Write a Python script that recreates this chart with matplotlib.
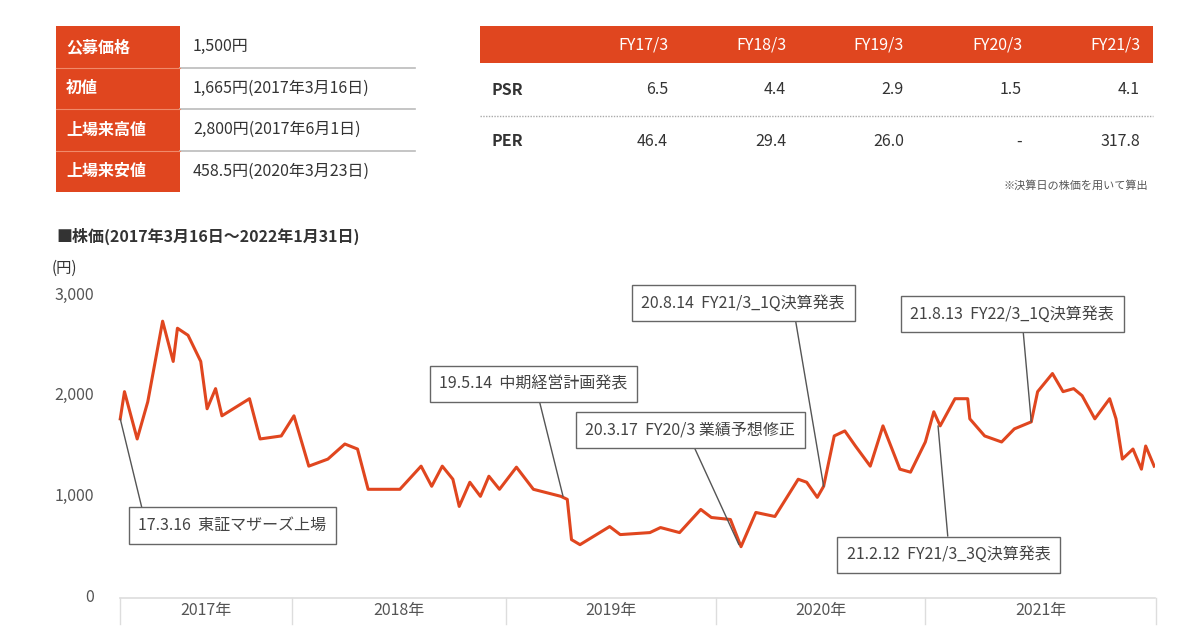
import matplotlib
matplotlib.use("Agg")
import matplotlib.pyplot as plt
from matplotlib.patches import Rectangle
from matplotlib.lines import Line2D

plt.rcParams["font.family"] = "Noto Sans CJK JP"

ORANGE = "#E0461F"
TXT = "#333333"

# price series (decimal year, yen)
t = [2017.20, 2017.22, 2017.28, 2017.33, 2017.40, 2017.45, 2017.47, 2017.52, 2017.58, 2017.61,
     2017.65, 2017.68, 2017.81, 2017.86, 2017.96, 2018.02, 2018.09, 2018.18, 2018.26, 2018.32,
     2018.37, 2018.52, 2018.62, 2018.67, 2018.72, 2018.77, 2018.80, 2018.85, 2018.90, 2018.94,
     2018.99, 2019.07, 2019.15, 2019.28, 2019.31, 2019.33, 2019.37, 2019.51, 2019.56, 2019.70,
     2019.75, 2019.84, 2019.94, 2019.99, 2020.08, 2020.13, 2020.20, 2020.29, 2020.40, 2020.44,
     2020.49, 2020.52, 2020.57, 2020.62, 2020.67, 2020.74, 2020.80, 2020.88, 2020.93, 2021.00,
     2021.04, 2021.07, 2021.14, 2021.20, 2021.21, 2021.28, 2021.36, 2021.42, 2021.50, 2021.53,
     2021.60, 2021.65, 2021.70, 2021.74, 2021.80, 2021.87, 2021.90, 2021.93, 2021.98, 2022.02,
     2022.04, 2022.08]
price = [1750, 2020, 1550, 1920, 2720, 2320, 2650, 2580, 2320, 1850,
         2050, 1780, 1950, 1550, 1580, 1780, 1280, 1350, 1500, 1450,
         1050, 1050, 1280, 1080, 1280, 1150, 880, 1120, 980, 1180,
         1050, 1270, 1050, 980, 950, 550, 500, 680, 600, 620,
         670, 620, 850, 770, 750, 480, 820, 780, 1150, 1120,
         970, 1080, 1580, 1630, 1480, 1280, 1680, 1250, 1220, 1520,
         1820, 1680, 1950, 1950, 1750, 1580, 1520, 1650, 1720, 2020,
         2200, 2020, 2050, 1980, 1750, 1950, 1750, 1350, 1450, 1250,
         1480, 1280]

yticks = [0, 1000, 2000, 3000]
years = ["2017年", "2018年", "2019年", "2020年", "2021年"]
year_edges = [2017.20, 2018.01, 2019.02, 2020.01, 2021.00, 2022.09]

# events: label, (text x, text y), (point x, point y), line attach point on box
events = [
    ("17.3.16  東証マザーズ上場", (2017.73, 690), (2017.20, 1750), (0.03, 1)),
    ("19.5.14  中期経営計画発表", (2019.15, 2100), (2019.29, 980), (0.52, 0)),
    ("20.3.17  FY20/3 業績予想修正", (2019.89, 1640), (2020.12, 500), (0.5, 0)),
    ("20.8.14  FY21/3_1Q決算発表", (2020.14, 2900), (2020.52, 1080), (0.75, 0)),
    ("21.8.13  FY22/3_1Q決算発表", (2021.41, 2790), (2021.50, 1720), (0.55, 0)),
    ("21.2.12  FY21/3_3Q決算発表", (2021.11, 400), (2021.06, 1680), (0.5, 1)),
]

# tables
ipo_labels = ["公募価格", "初値", "上場来高値", "上場来安値"]
ipo_values = ["1,500円", "1,665円(2017年3月16日)", "2,800円(2017年6月1日)", "458.5円(2020年3月23日)"]
fy_cols = ["FY17/3", "FY18/3", "FY19/3", "FY20/3", "FY21/3"]
psr = ["6.5", "4.4", "2.9", "1.5", "4.1"]
per = ["46.4", "29.4", "26.0", "-", "317.8"]

W, H = 1200, 628
fig = plt.figure(figsize=(12, 6.28), dpi=100)


def fx(px):
    return px / W


def fy(py):
    return 1 - py / H


# left table
row_h = 41.5
for i, (lab, val) in enumerate(zip(ipo_labels, ipo_values)):
    top = 26 + i * row_h
    fig.patches.append(Rectangle((fx(56), fy(top + row_h)), fx(124), row_h / H,
                                 transform=fig.transFigure, color=ORANGE, lw=0))
    fig.text(fx(66), fy(top + row_h / 2), lab, color="white", fontsize=11.5,
             fontweight="bold", va="center")
    fig.text(fx(193), fy(top + row_h / 2), val, color=TXT, fontsize=11.5, va="center")
    if i < 3:
        fig.add_artist(Line2D([fx(180), fx(415)], [fy(top + row_h)] * 2, color="#bbbbbb", lw=1.2))
for i in range(1, 4):
    fig.add_artist(Line2D([fx(56), fx(180)], [fy(26 + i * row_h)] * 2, color="#f08a6a", lw=0.8))

# right table
fig.patches.append(Rectangle((fx(480), fy(63)), fx(673), 37 / H,
                             transform=fig.transFigure, color=ORANGE, lw=0))
col_x = [668, 786, 904, 1022, 1140]
for cx, c, a, b in zip(col_x, fy_cols, psr, per):
    fig.text(fx(cx), fy(45), c, color="white", fontsize=11.5, ha="right", va="center")
    fig.text(fx(cx), fy(90), a, color=TXT, fontsize=11.5, ha="right", va="center")
    fig.text(fx(cx), fy(141), b, color=TXT, fontsize=11.5, ha="right", va="center")
fig.text(fx(492), fy(90), "PSR", color=TXT, fontsize=11.5, fontweight="bold", va="center")
fig.text(fx(492), fy(141), "PER", color=TXT, fontsize=11.5, fontweight="bold", va="center")
fig.add_artist(Line2D([fx(480), fx(1153)], [fy(116)] * 2, color="#aaaaaa", lw=1, ls=(0, (1, 1))))
fig.text(fx(1148), fy(185), "※決算日の株価を用いて算出", color="#555555", fontsize=8, ha="right", va="center")

# chart title
fig.text(fx(56), fy(236), "■株価(2017年3月16日～2022年1月31日)", color=TXT, fontsize=11.5,
         fontweight="bold", va="center")
fig.text(fx(52), fy(268), "(円)", color=TXT, fontsize=11, va="center")

# price chart
x0, x1 = 2017.18, 2022.084
ax = fig.add_axes([fx(116), fy(595), fx(1155 - 116), (595 - 293) / H])
ax.plot(t, price, color=ORANGE, lw=2.2)
ax.set_xlim(x0, x1)
ax.set_ylim(0, 3000)
ax.set_yticks(yticks)
ax.set_yticklabels([f"{v:,}" for v in yticks], color="#555555", fontsize=11.5)
ax.tick_params(axis="y", length=0, pad=16)
ax.set_xticks([])
for s in ax.spines.values():
    s.set_visible(False)

# year bands under the chart
btr = ax.get_xaxis_transform()
ax.add_line(Line2D([year_edges[0], x1], [-0.01, -0.01], transform=btr, color="#dddddd", lw=1.2, clip_on=False))
for e in year_edges:
    ax.add_line(Line2D([e, e], [-0.01, -0.095], transform=btr, color="#dddddd", lw=1, clip_on=False))
for i, y in enumerate(years):
    ax.text((year_edges[i] + year_edges[i + 1]) / 2, -0.05, y, transform=btr,
            ha="center", va="center", color="#555555", fontsize=11.5)

for lab, xyt, xyp, rp in events:
    ax.annotate(lab, xy=xyp, xytext=xyt, ha="center", va="center", fontsize=11.5, color="#444444",
                annotation_clip=False,
                bbox=dict(boxstyle="square,pad=0.6", fc="white", ec="#666666", lw=1),
                arrowprops=dict(arrowstyle="-", color="#555555", lw=1, relpos=rp,
                                shrinkA=0, shrinkB=0))

fig.savefig("out.png", dpi=100, facecolor="white")
